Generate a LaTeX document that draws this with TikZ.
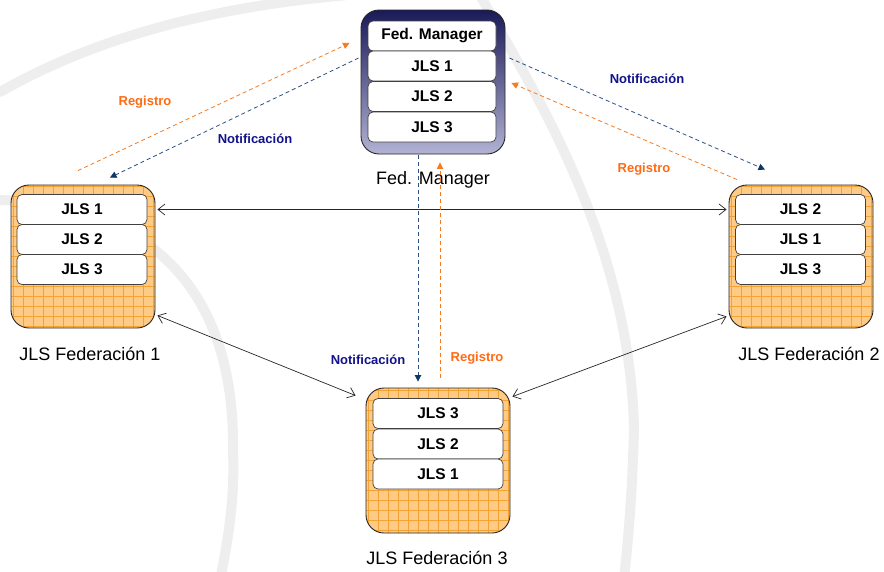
\documentclass[tikz,border=0pt]{standalone}
\usepackage{fontspec}
\setmainfont{Liberation Sans}
\usetikzlibrary{arrows.meta}
\definecolor{fedfill}{HTML}{FDCB85}
\definecolor{fedgrid}{HTML}{F5A235}
\definecolor{mgrtop}{HTML}{1A1A58}
\definecolor{mgrbot}{HTML}{B2B2D4}
\definecolor{regline}{HTML}{F47B20}
\definecolor{regtext}{HTML}{FF6A13}
\definecolor{notline}{HTML}{2B4F86}
\definecolor{nottext}{HTML}{12128C}
\definecolor{nottip}{HTML}{0F3566}
\tikzset{
  wmark/.style={gray!13,line width=10pt,line cap=round},
  fedbox/.style={draw=black!85,line width=0.9pt,rounded corners=18pt,fill=fedfill,
    minimum width=144pt,minimum height=143pt,
    path picture={\draw[fedgrid,line width=0.5pt] ([shift={(-5pt,-5pt)}]path picture bounding box.south west) grid[step=10pt] (path picture bounding box.north east);}},
  mgrbox/.style={draw=black!85,line width=0.9pt,rounded corners=18pt,top color=mgrtop,bottom color=mgrbot,
    minimum width=144pt,minimum height=144pt},
  jls/.style={draw=black!75,line width=0.7pt,fill=white,rounded corners=5pt,inner sep=0pt,
    minimum width=130pt,minimum height=30pt,font=\bfseries\fontsize{15.5}{15.5}\selectfont},
  caption/.style={font=\fontsize{18}{18}\selectfont},
  reglbl/.style={regtext,font=\bfseries\fontsize{13}{13}\selectfont},
  notlbl/.style={nottext,font=\bfseries\fontsize{13}{13}\selectfont},
  link/.style={black!85,line width=0.7pt,{Straight Barb[length=7pt,width=11pt]}-{Straight Barb[length=7pt,width=11pt]}},
  reg/.style={regline,line width=0.8pt,dash pattern=on 4pt off 3pt,-{Triangle[length=6.5pt,width=6.5pt]}},
  notif/.style={notline,line width=0.8pt,dash pattern=on 4pt off 3pt,-{Triangle[length=6.5pt,width=6.5pt,color=nottip]}}
}
\begin{document}
\begin{tikzpicture}[x=1pt,y=-1pt]
\useasboundingbox (0,0) rectangle (884,571);

\draw[wmark] (0,92) .. controls (100,35) and (220,5) .. (360,-6);
\draw[wmark] (0,200) .. controls (150,205) and (235,290) .. (233,450) .. controls (235,500) and (228,540) .. (220,580);
\draw[wmark] (480,-5) .. controls (520,70) and (630,230) .. (634,430) .. controls (632,500) and (628,540) .. (624,580);

\draw (433,82) node[mgrbox] (fm) {};
\draw (432,36) node[jls,minimum width=128pt] (fm0) {Fed. Manager};
\draw (432,66) node[jls,minimum width=128pt] (fm1) {JLS 1};
\draw (432,96.5) node[jls,minimum width=128pt] (fm2) {JLS 2};
\draw (432,127) node[jls,minimum width=128pt] (fm3) {JLS 3};
\draw (433,180) node[caption] (capfm) {Fed. Manager};

\draw (83,256.5) node[fedbox] (fed1) {};
\draw (82,209.5) node[jls] (f1a) {JLS 1};
\draw (82,239.5) node[jls] (f1b) {JLS 2};
\draw (82,269.5) node[jls] (f1c) {JLS 3};
\draw (90,354) node[caption] (capf1) {JLS Federación 1};

\draw (801,256.5) node[fedbox] (fed2) {};
\draw (800.5,209.5) node[jls] (f2a) {JLS 2};
\draw (800.5,239.5) node[jls] (f2b) {JLS 1};
\draw (800.5,269.5) node[jls] (f2c) {JLS 3};
\draw (809,354) node[caption] (capf2) {JLS Federación 2};

\draw (438,460.5) node[fedbox,minimum height=145pt] (fed3) {};
\draw (438,413.5) node[jls] (f3a) {JLS 3};
\draw (438,444) node[jls] (f3b) {JLS 2};
\draw (438,474) node[jls] (f3c) {JLS 1};
\draw (437,558) node[caption] (capf3) {JLS Federación 3};

\draw[link,shorten <=2pt,shorten >=2pt] (fed1.east |- f1a) -- (fed2.west |- f2a);
\draw[link] ([shift={(2,-13)}]fed1.south east) -- ([shift={(-10,8)}]fed3.north west);
\draw[link] ([shift={(2,9)}]fed3.north east) -- ([shift={(-2,-12)}]fed2.south west);

\draw[reg] ([shift={(-5,-14)}]fed1.north) -- ([shift={(-11,-39)}]fm.west);
\draw[notif] ([shift={(-2,-24)}]fm.west) -- ([shift={(27,-7)}]fed1.north);
\draw[notif] ([shift={(4,-24)}]fm.east) -- ([shift={(-36,-15)}]fed2.north);
\draw[reg] ([shift={(-64,-5)}]fed2.north) -- ([shift={(6,1)}]fm.east);
\draw[notif] ([shift={(-15,1)}]fm.south) -- ([shift={(-20,-6)}]fed3.north);
\draw[reg] ([shift={(2,-10)}]fed3.north) -- ([shift={(7,8)}]fm.south);

\draw (145,102) node[reglbl] (reg1) {Registro};
\draw (255,139) node[notlbl] (not1) {Notificación};
\draw (647,79) node[notlbl] (not2) {Notificación};
\draw (644,169) node[reglbl] (reg2) {Registro};
\draw (368,360) node[notlbl] (not3) {Notificación};
\draw (477,358) node[reglbl] (reg3) {Registro};
\end{tikzpicture}
\end{document}
